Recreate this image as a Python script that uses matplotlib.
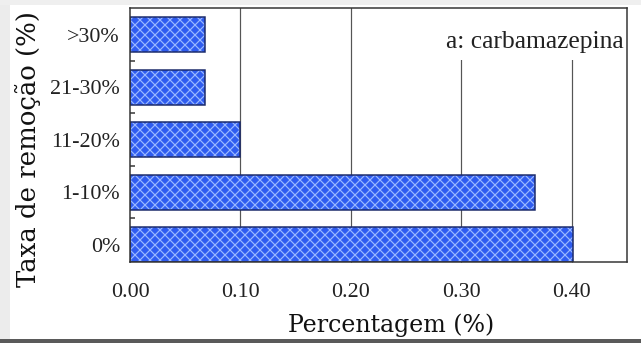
import matplotlib
matplotlib.use('Agg')
import matplotlib.pyplot as plt
from matplotlib.patches import Rectangle
from matplotlib.ticker import FixedLocator

categories = ['0%', '1-10%', '11-20%', '21-30%', '>30%']
values = [0.401, 0.367, 0.100, 0.068, 0.068]
xticks = [0.0, 0.1, 0.2, 0.3, 0.4]
xtick_labels = ['0.00', '0.10', '0.20', '0.30', '0.40']
annotation = 'a: carbamazepina'
xlabel = 'Percentagem (%)'
ylabel = 'Taxa de remoção (%)'

DPI = 120
W, H = 641, 343


def pt(px):
    return px * 72 / DPI


plt.rcParams['hatch.linewidth'] = pt(1.2)
fig = plt.figure(figsize=(W / DPI, H / DPI), dpi=DPI)
fig.patch.set_facecolor('white')

# outer frame of the screenshot
fig.patches.append(Rectangle((0, 0), 10 / W, 1, transform=fig.transFigure,
                             facecolor='#ececec', edgecolor='none', zorder=-5))
fig.patches.append(Rectangle((0, 1 - 5 / H), 1, 5 / H, transform=fig.transFigure,
                             facecolor='#efefef', edgecolor='none', zorder=-5))
fig.patches.append(Rectangle((0, 0), 1, 4 / H, transform=fig.transFigure,
                             facecolor='#5a5a5a', edgecolor='none', zorder=-5))

ax = fig.add_axes([130 / W, 1 - 262 / H, (627 - 130) / W, (262 - 8) / H])
ypos = list(range(len(categories)))
ax.barh(ypos, values, height=0.67, color='#2f5cf0', edgecolor='#9ab8ff',
        hatch='xxxx', linewidth=0, zorder=2)
ax.barh(ypos, values, height=0.67, fill=False, edgecolor='#1b2a6b',
        linewidth=pt(1.5), zorder=3)

ax.set_xlim(0, 0.45)
ax.set_ylim(-0.33, 4.51)

ax.set_xticks(xticks)
ax.set_xticklabels(xtick_labels, family='Liberation Serif', fontsize=pt(22), color='#222222')
ax.set_yticks(ypos)
ax.set_yticklabels(categories, family='Liberation Serif', fontsize=pt(22), color='#222222')
ax.yaxis.set_minor_locator(FixedLocator([0.5, 1.5, 2.5, 3.5]))

ax.tick_params(axis='x', direction='in', length=pt(4), width=pt(1.2), pad=pt(21), color='#333333')
ax.tick_params(axis='y', which='major', length=0, pad=pt(10))
ax.tick_params(axis='y', which='minor', direction='in', length=pt(5), width=pt(1.5), color='#333333')

for x in xticks[1:]:
    ax.axvline(x, color='#555555', linewidth=pt(1.2), zorder=1)

# white box behind annotation covering the gridlines
ax.add_patch(Rectangle((0.28, 3.52), 0.17, 1.0, facecolor='white', edgecolor='none', zorder=1.5))
ax.text(0.994, 0.866, annotation, transform=ax.transAxes, ha='right', va='center',
        family='Liberation Serif', fontsize=pt(25.5), color='#222222', zorder=4)

for s in ax.spines.values():
    s.set_color('#333333')
    s.set_linewidth(pt(1.5))
    s.set_zorder(5)

fig.text(391 / W, 1 - 325 / H, xlabel, ha='center', va='center',
         family='DejaVu Serif', fontsize=pt(23.8), color='#111111')
fig.text(28 / W, 1 - 149 / H, ylabel, ha='center', va='center', rotation=90,
         family='DejaVu Serif', fontsize=pt(26), color='#111111')

fig.savefig('out.png', dpi=DPI, facecolor=fig.get_facecolor())
